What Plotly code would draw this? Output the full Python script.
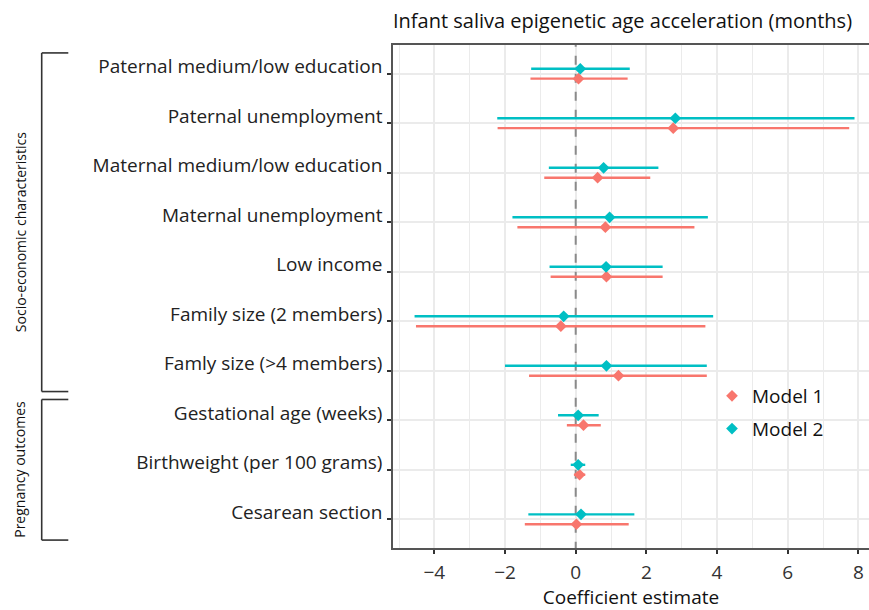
import plotly.graph_objects as go

# ---------------- data ----------------
categories = [
    "Paternal medium/low education",
    "Paternal unemployment",
    "Maternal medium/low education",
    "Maternal unemployment",
    "Low income",
    "Family size (2 members)",
    "Famly size (>4 members)",
    "Gestational age (weeks)",
    "Birthweight (per 100 grams)",
    "Cesarean section",
]
group_names = ["Socio-economic characteristics", "Pregnancy outcomes"]
group_sizes = [7, 3]

m1_est = [0.08, 2.76, 0.62, 0.84, 0.87, -0.42, 1.21, 0.22, 0.11, 0.02]
m1_lo = [-1.28, -2.21, -0.89, -1.65, -0.71, -4.52, -1.32, -0.25, -0.05, -1.44]
m1_hi = [1.47, 7.74, 2.11, 3.36, 2.46, 3.67, 3.71, 0.71, 0.27, 1.50]

m2_est = [0.13, 2.82, 0.79, 0.96, 0.86, -0.34, 0.87, 0.07, 0.07, 0.15]
m2_lo = [-1.26, -2.22, -0.76, -1.79, -0.74, -4.56, -2.00, -0.50, -0.14, -1.34]
m2_hi = [1.53, 7.89, 2.34, 3.74, 2.46, 3.89, 3.71, 0.65, 0.27, 1.66]

x_ticks = [-4, -2, 0, 2, 4, 6, 8]
ref_value = 0

title_text = "Infant saliva epigenetic age acceleration (months)"
x_title = "Coefficient estimate"

# ---------------- styling ----------------
FONT = "Open Sans"
RED = "#F8766D"
TEAL = "#00BFC4"
GRID = "#EBEBEB"
FRAME = "#555555"
W, H = 869, 610
ML, MR, MT, MB = 393, 0, 45, 62
plot_w = W - ML - MR
plot_h = H - MT - MB

n = len(categories)
pos = [n - i for i in range(n)]
dodge = 0.1


def px_to_paper_x(px):
    return (px - ML) / plot_w


def py_to_paper_y(py):
    return (H - MB - py) / plot_h


fig = go.Figure()

# zero reference line (drawn first so the intervals sit above it)
fig.add_trace(go.Scatter(
    x=[ref_value, ref_value], y=[0, n + 1], mode="lines",
    line=dict(color="#8a8a8a", width=2, dash="dash"),
    showlegend=False, hoverinfo="skip",
))

series = [
    ("Model 1", m1_est, m1_lo, m1_hi, RED, -dodge),
    ("Model 2", m2_est, m2_lo, m2_hi, TEAL, dodge),
]
for i, (name, est, lo, hi, col, off) in enumerate(series):
    fig.add_trace(go.Scatter(
        x=est,
        y=[p + off for p in pos],
        mode="markers",
        name=name,
        legendgroup=name,
        marker=dict(symbol="diamond", size=9, color=col),
        error_x=dict(
            type="data", symmetric=False,
            array=[h - e for h, e in zip(hi, est)],
            arrayminus=[e - l for e, l in zip(est, lo)],
            color=col, thickness=2.4, width=0,
        ),
        hoverinfo="skip",
    ))

shapes = []
# legend background
shapes.append(dict(type="rect", xref="paper", yref="paper",
                   x0=px_to_paper_x(710), x1=px_to_paper_x(838),
                   y0=py_to_paper_y(447), y1=py_to_paper_y(358),
                   fillcolor="white", line=dict(width=0), layer="between"))

# group brackets
bx = px_to_paper_x(41.7)
bx2 = px_to_paper_x(68.3)
start = 0
annotations = []
label_offsets = [-0.2, 0.0]
for gi, (gname, gsize) in enumerate(zip(group_names, group_sizes)):
    top = pos[start] + 0.42
    bot = pos[start + gsize - 1] - 0.42
    for (xa, ya, xb, yb) in [(bx, top, bx, bot), (bx, top, bx2, top), (bx, bot, bx2, bot)]:
        shapes.append(dict(type="line", xref="paper", yref="y", x0=xa, x1=xb, y0=ya, y1=yb,
                           line=dict(color="#333333", width=1.6)))
    annotations.append(dict(
        text=gname, xref="paper", yref="y", x=px_to_paper_x(20),
        y=(top + bot) / 2 + label_offsets[gi], textangle=-90, showarrow=False,
        font=dict(family=FONT, size=14, color="#111111"),
        xanchor="center", yanchor="middle",
    ))
    start += gsize

fig.update_layout(
    width=W, height=H,
    margin=dict(l=ML, r=MR, t=MT, b=MB, pad=0, autoexpand=False),
    paper_bgcolor="white", plot_bgcolor="white",
    font=dict(family=FONT, color="#222222"),
    title=dict(text=title_text, x=0, xref="paper", xanchor="left",
               y=1 - 21 / H, yref="container", yanchor="middle",
               font=dict(family=FONT, size=20, color="#111111"),
               automargin=False),
    showlegend=True,
    legend=dict(x=px_to_paper_x(712), y=py_to_paper_y(377),
                xanchor="left", yanchor="top", bgcolor="rgba(0,0,0,0)",
                font=dict(family=FONT, size=19, color="#111111"),
                traceorder="grouped", tracegroupgap=5),
    shapes=shapes,
    annotations=annotations,
)

fig.update_xaxes(
    range=[-5.17, 8.30], automargin=False,
    tickvals=x_ticks,
    ticks="outside", ticklen=4, tickwidth=1.5, tickcolor="#333333",
    tickfont=dict(family=FONT, size=19, color="#333333"),
    ticklabelstandoff=2,
    showgrid=True, gridcolor=GRID, gridwidth=1.5,
    minor=dict(dtick=1, showgrid=True, gridcolor=GRID, gridwidth=1.2),
    showline=True, mirror=True, linecolor=FRAME, linewidth=1.5,
    zeroline=False,
    title=dict(text=x_title, standoff=10, font=dict(family=FONT, size=19, color="#111111")),
)
fig.update_yaxes(
    range=[0.42, n + 0.58], automargin=False,
    tickvals=pos, ticktext=categories,
    ticks="outside", ticklen=4, tickwidth=1.5, tickcolor="#333333",
    tickfont=dict(family=FONT, size=19, color="#222222"),
    ticklabelstandoff=1, ticklabelshift=-7,
    showgrid=True, gridcolor=GRID, gridwidth=1.5,
    showline=True, mirror=False, linecolor=FRAME, linewidth=1.5,
    zeroline=False,
)

fig.write_html(
    "out.html",
    config={"displayModeBar": False},
    post_script="document.body.style.margin='0';document.body.style.overflow='hidden';",
)
